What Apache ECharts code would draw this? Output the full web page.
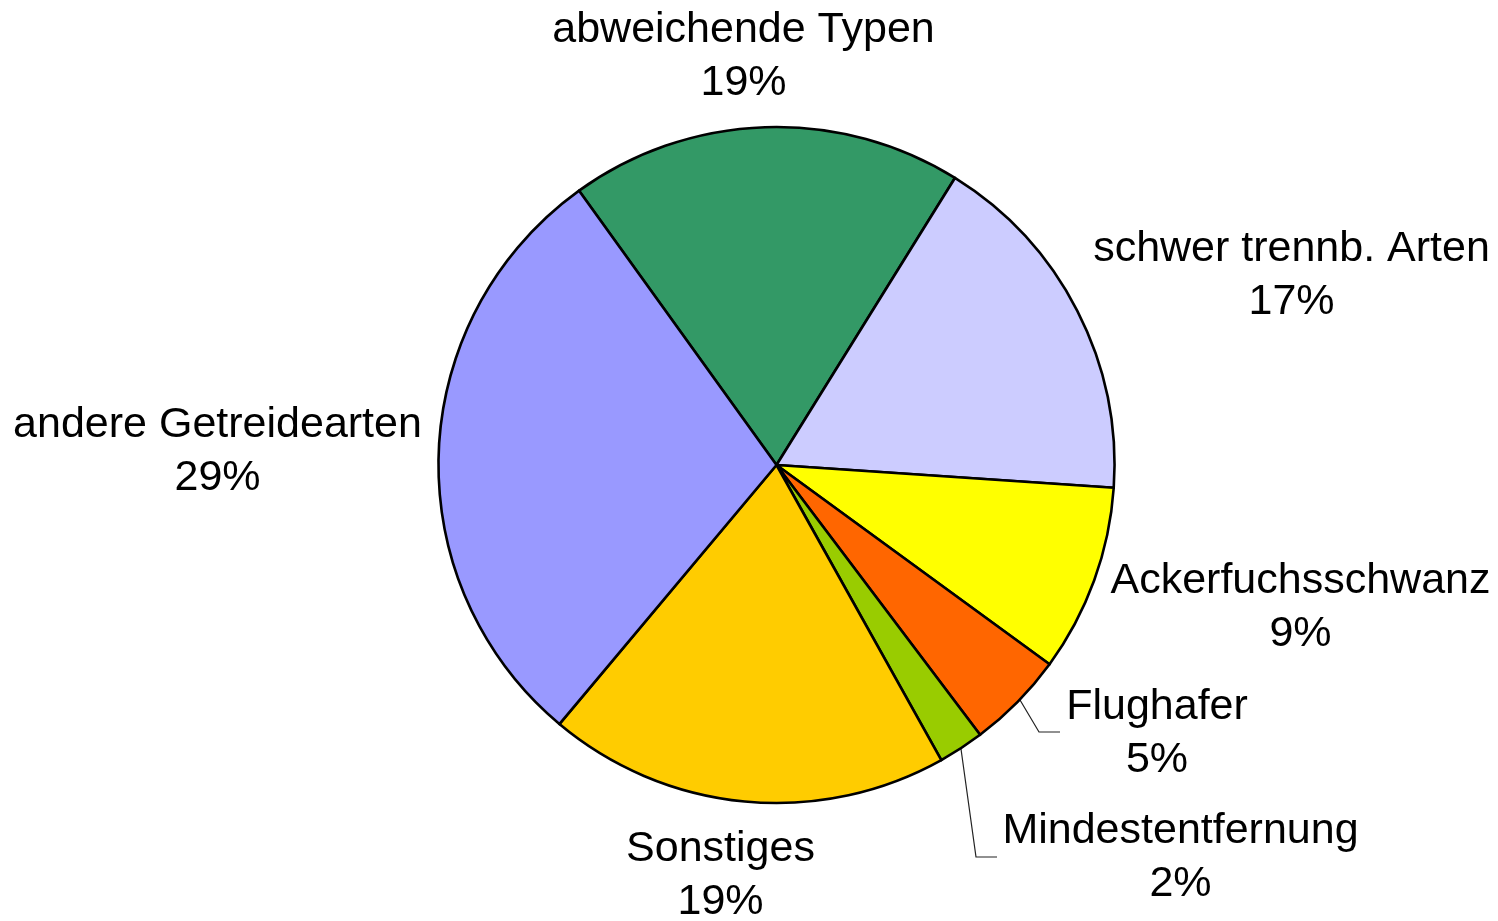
<!DOCTYPE html>
<html><head><meta charset="utf-8">
<script src="https://cdn.jsdelivr.net/npm/echarts@6/dist/echarts.min.js"></script>
<style>html,body{margin:0;padding:0;background:#fff}#c{width:1498px;height:921px}</style>
</head><body><div id="c"></div>
<script>
// Data (percent shares, clockwise from top-left)
const categories = ['abweichende Typen','schwer trennb. Arten','Ackerfuchsschwanz','Flughafer','Mindestentfernung','Sonstiges','andere Getreidearten'];
const shares = [18.78, 17.22, 8.96, 4.68, 2.18, 19.21, 28.97];
const sliceColors = ['#339966','#CCCCFF','#FFFF00','#FF6600','#99CC00','#FFCC00','#9999FF'];

// Label layout (kept separate from data)
const labelCenters = [[743.5,57],[1291.5,276],[1300.5,607.5],[1157,733.5],[1180.5,858],[720.5,875.5],[217.5,452]];
const leaderLines = {
  3: [[1020,700],[1039,732],[1060,732]],
  4: [[961,749],[976,857],[997,857]]
};

const chart = echarts.init(document.getElementById('c'), null, {renderer:'canvas'});
const data = categories.map((name, i) => ({
  name: name,
  value: shares[i],
  itemStyle: {color: sliceColors[i]},
  labelLine: {show: !!leaderLines[i]}
}));

chart.setOption({
  backgroundColor: '#ffffff',
  animation: false,
  series: [{
    type: 'pie',
    center: [776.5, 465],
    radius: 338,
    startAngle: 125.74,
    clockwise: true,
    avoidLabelOverlap: false,
    percentPrecision: 0,
    data: data,
    itemStyle: {borderColor: '#000', borderWidth: 2.6},
    emphasis: {disabled: true},
    label: {
      show: true,
      position: 'outside',
      formatter: '{b}\n{d}%',
      fontFamily: '"Liberation Sans", Arial, sans-serif',
      fontSize: 43,
      lineHeight: 53,
      color: '#000'
    },
    labelLine: {
      length: 0, length2: 0,
      lineStyle: {color: '#222', width: 1.2}
    },
    labelLayout: function (params) {
      const i = params.dataIndex;
      const res = {
        x: labelCenters[i][0],
        y: labelCenters[i][1],
        align: 'center',
        verticalAlign: 'middle'
      };
      if (leaderLines[i]) res.labelLinePoints = leaderLines[i];
      return res;
    }
  }]
});
</script>
</body></html>
